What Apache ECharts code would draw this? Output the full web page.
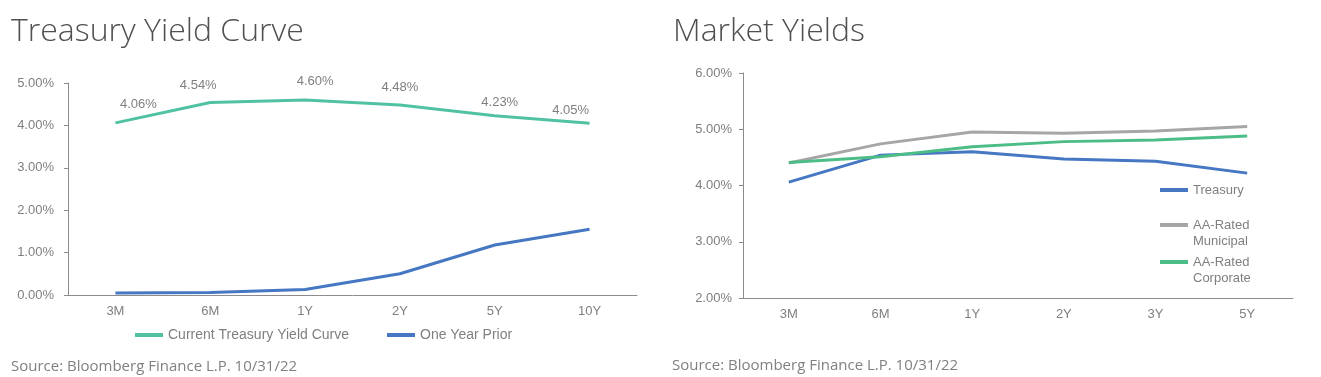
<!DOCTYPE html>
<html>
<head>
<meta charset="utf-8">
<script src="https://cdn.jsdelivr.net/npm/echarts@6/dist/echarts.min.js"></script>
<style>
  html, body { margin: 0; padding: 0; background: #fff; }
  #main { width: 1321px; height: 377px; }
</style>
</head>
<body>
<div id="main"></div>
<script>
// left panel: treasury curve
var curveTerms = ['3M', '6M', '1Y', '2Y', '5Y', '10Y'];
var currentCurve = [4.06, 4.54, 4.60, 4.48, 4.23, 4.05];
var yearPrior = [0.05, 0.06, 0.13, 0.50, 1.18, 1.55];

// right panel: market yields
var marketTerms = ['3M', '6M', '1Y', '2Y', '3Y', '5Y'];
var treasury = [4.06, 4.54, 4.60, 4.47, 4.43, 4.22];
var municipal = [4.40, 4.74, 4.95, 4.93, 4.97, 5.05];
var corporate = [4.41, 4.51, 4.69, 4.78, 4.81, 4.88];

// label nudges (excel placed them a bit off-center)
var labelShift = [[23, -7], [-12, -6], [10, -7], [0, -6], [5, -2], [-19, -1]];

var grey = '#7f7f7f';
var axisGrey = '#8c8c8c';
var font = 'Liberation Sans, Arial, sans-serif';

var pct = function (v) { return v.toFixed(2) + '%'; };

var xAxisBase = function (idx, cats) {
    return {
        type: 'category',
        gridIndex: idx,
        data: cats,
        axisLine: { lineStyle: { color: axisGrey, width: 1 } },
        axisTick: { length: 5, lineStyle: { color: axisGrey } },
        axisLabel: { color: grey, fontSize: 13, fontFamily: font, margin: 10 }
    };
};
var yAxisBase = function (idx, min, max, margin) {
    return {
        type: 'value',
        gridIndex: idx,
        min: min,
        max: max,
        interval: 1,
        axisLine: { show: true, lineStyle: { color: axisGrey, width: 1 } },
        axisTick: { show: true, length: 4, lineStyle: { color: axisGrey } },
        splitLine: { show: false },
        axisLabel: { color: grey, fontSize: 13, fontFamily: font, margin: margin, formatter: pct }
    };
};

var lineSeries = function (name, data, color, xi) {
    return {
        name: name,
        type: 'line',
        xAxisIndex: xi,
        yAxisIndex: xi,
        data: data,
        symbol: 'circle',
        symbolSize: 0,
        showSymbol: true,
        smooth: false,
        lineStyle: { color: color, width: 3 },
        itemStyle: { color: color }
    };
};

var current = lineSeries('Current Treasury Yield Curve', currentCurve.map(function (v, i) {
    return { value: v, label: { offset: labelShift[i] } };
}), '#50c2a3', 0);
current.label = {
    show: true, position: 'top', distance: 5,
    color: grey, fontSize: 13, fontFamily: font,
    formatter: function (p) { return pct(p.value); }
};

var legendText = { color: grey, fontSize: 13, fontFamily: font, lineHeight: 16 };
var sideLegend = function (name, top, text) {
    var lg = { data: [name], left: 1160, top: top, padding: 0, itemWidth: 28, itemHeight: 4,
               icon: 'rect', textStyle: legendText };
    // blank first line keeps the swatch on the first text line
    if (text) lg.formatter = function () { return ' \n' + text; };
    return lg;
};

var option = {
    backgroundColor: '#fff',
    animation: false,
    title: [
        { text: 'Treasury Yield Curve', left: 6, top: 11,
          textStyle: { fontFamily: 'Open Sans', fontWeight: 300, fontSize: 32, color: '#505050' } },
        { text: 'Market Yields', left: 668, top: 11,
          textStyle: { fontFamily: 'Open Sans', fontWeight: 300, fontSize: 32, color: '#505050' } },
        { text: 'Source: Bloomberg Finance L.P. 10/31/22', left: 6, top: 354,
          textStyle: { fontFamily: 'Open Sans', fontWeight: 400, fontSize: 15, color: '#808080' } },
        { text: 'Source: Bloomberg Finance L.P. 10/31/22', left: 667, top: 353,
          textStyle: { fontFamily: 'Open Sans', fontWeight: 400, fontSize: 15, color: '#808080' } }
    ],
    legend: [
        { data: ['Current Treasury Yield Curve', 'One Year Prior'], left: 135, top: 328, padding: 0,
          itemWidth: 28, itemHeight: 4, itemGap: 38, icon: 'rect',
          textStyle: { color: grey, fontSize: 14, fontFamily: font } },
        sideLegend('Treasury', 182),
        sideLegend('AA-Rated Municipal', 201, 'AA-Rated\nMunicipal'),
        sideLegend('AA-Rated Corporate', 238, 'AA-Rated\nCorporate')
    ],
    grid: [
        { left: 68, top: 83, width: 569, height: 212 },
        { left: 743, top: 73, width: 550, height: 225 }
    ],
    xAxis: [xAxisBase(0, curveTerms), xAxisBase(1, marketTerms)],
    yAxis: [yAxisBase(0, 0, 5, 14), yAxisBase(1, 2, 6, 11)],
    series: [
        current,
        lineSeries('One Year Prior', yearPrior, '#4677c2', 0),
        lineSeries('Treasury', treasury, '#4677c2', 1),
        lineSeries('AA-Rated Municipal', municipal, '#a6a6a6', 1),
        lineSeries('AA-Rated Corporate', corporate, '#4dbd88', 1)
    ]
};

var chart = echarts.init(document.getElementById('main'));
chart.setOption(option);
</script>
</body>
</html>
